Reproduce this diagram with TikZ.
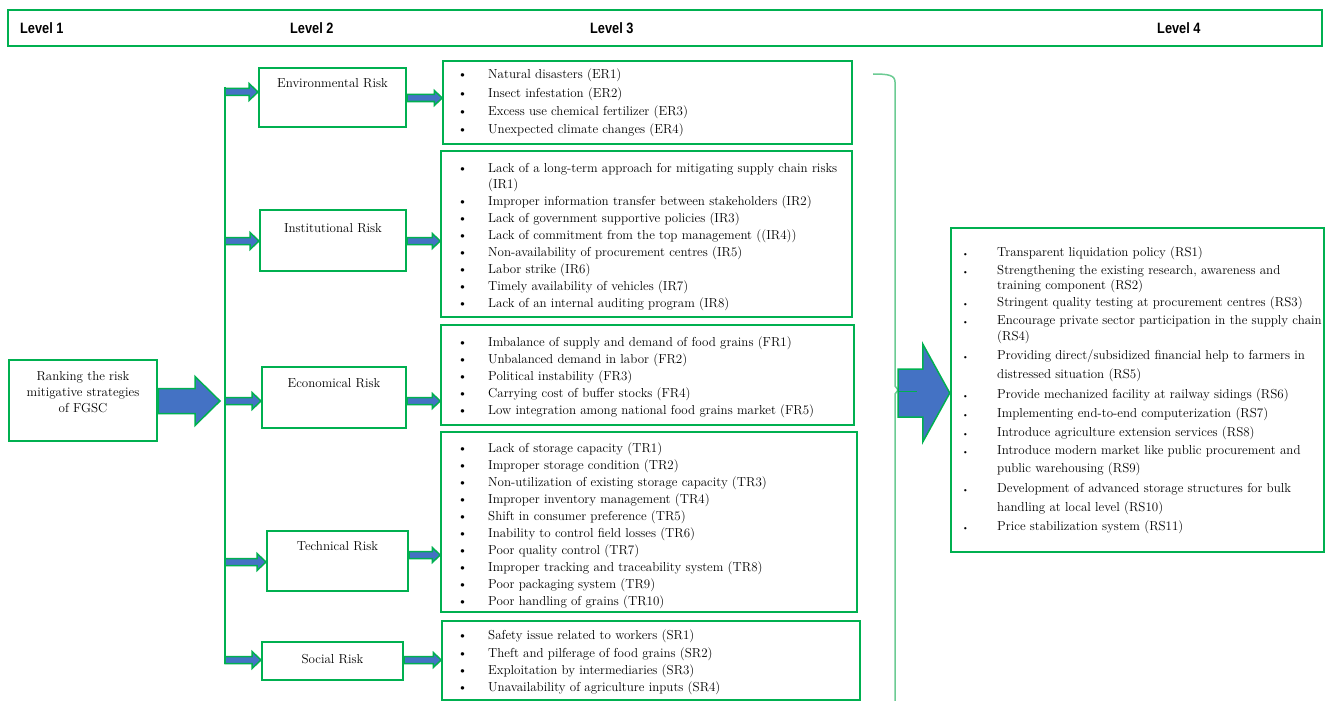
\documentclass[tikz,border=0pt]{standalone}
\usepackage{fontspec}
\newfontfamily\hdr{Liberation Sans}[FakeStretch=0.85]
\usetikzlibrary{calc}
\definecolor{gr}{HTML}{00B050}
\definecolor{bl}{HTML}{4472C4}
\definecolor{lgr}{HTML}{6CCB93}
\newcommand\bu{\makebox[30.5pt][l]{\textbullet}}
\newcommand\nb{\hspace*{30.5pt}}
\newcommand\bv{\makebox[35pt][l]{\footnotesize\textbullet}}
\newcommand\nv{\hspace*{35pt}}
\newcommand\li[4]{\node[txt] (#1) at (#2,#3+4) {#4};}
\newcommand\lr[3]{\node[rtxt] (#1) at (962,#2+4) {#3};}
\newcommand\blockarrow[5]{\path[barrow] let \p1=(#1), \p2=(#2) in
  (\x1,\y1+#3) -- (\x2-#5,\y1+#3) -- (\x2-#5,\y1+#4) -- (\x2,\y1) --
  (\x2-#5,\y1-#4) -- (\x2-#5,\y1-#3) -- (\x1,\y1-#3) -- cycle;}
\begin{document}
\begin{tikzpicture}[x=1pt,y=-1pt,
 lbox/.style={draw=gr, line width=1.5pt, inner sep=0pt},
 hbox/.style={draw=gr, line width=2.5pt, inner sep=0pt},
 txt/.style={font=\fontsize{13}{15}\selectfont, inner sep=0pt, anchor=base west},
 rtxt/.style={font=\fontsize{13}{15}\selectfont, inner sep=0pt, anchor=base west},
 lbl/.style={font=\fontsize{13}{16}\selectfont, inner sep=0pt},
 hd/.style={font=\hdr\bfseries\fontsize{15}{18}\selectfont, inner sep=0pt, anchor=west},
 barrow/.style={fill=bl, draw=gr, line width=1.5pt, line join=miter},
 gline/.style={draw=gr, line width=2.5pt},
 brace/.style={draw=lgr, line width=1.5pt},
]
\useasboundingbox (0,0) rectangle (1326,701);

% header
\node[hbox, minimum width=1314pt, minimum height=36pt] (hdrbox) at (665,28) {};
\node[hd] (lv1) at (20,28) {Level 1};
\node[hd] (lv2) at (290,28) {Level 2};
\node[hd] (lv3) at (590,28) {Level 3};
\node[hd] (lv4) at (1157,28) {Level 4};

% level 1
\node[hbox, minimum width=148pt, minimum height=81pt] (rank) at (83,400.5) {};
\node[lbl, align=center] (rankt) at (83,392.5) {Ranking the risk\\mitigative strategies\\of FGSC};

% level 2 boxes
\node[lbox, line width=2pt, minimum width=147pt, minimum height=59pt] (env) at (332.5,97.5) {};
\node[lbox, line width=2pt, minimum width=146pt, minimum height=61pt] (inst) at (333,240.5) {};
\node[lbox, line width=2pt, minimum width=144pt, minimum height=61pt] (econ) at (334,397.5) {};
\node[lbox, line width=2pt, minimum width=141pt, minimum height=60pt] (tech) at (337.5,561) {};
\node[lbox, line width=2pt, minimum width=141pt, minimum height=38pt] (soc) at (332.5,661) {};
\node[lbl] (envt) at (332.5,83) {Environmental Risk};
\node[lbl] (instt) at (333,228) {Institutional Risk};
\node[lbl] (econt) at (334,383) {Economical Risk};
\node[lbl] (techt) at (337.5,546) {Technical Risk};
\node[lbl] (soct) at (332.5,659) {Social Risk};

% level 3 boxes
\node[lbox, minimum width=409pt, minimum height=83pt] (er) at (647.5,102.5) {};
\node[lbox, minimum width=411pt, minimum height=166pt] (ir) at (646.5,234) {};
\node[lbox, minimum width=413pt, minimum height=100pt] (fr) at (647.5,375) {};
\node[lbox, minimum width=416pt, minimum height=180pt] (tr) at (649,522) {};
\node[lbox, minimum width=418pt, minimum height=79pt] (sr) at (651,660.5) {};

% level 4 box
\node[hbox, minimum width=373pt, minimum height=324pt] (rs) at (1137.5,390) {};

% connectors: trunk
\coordinate (vtop) at (225,87);
\coordinate (vbot) at (225,664);
\draw[gline] (vtop) -- (vbot);
\coordinate (bigS) at (157,401);
\coordinate (bigT) at (220,401);
\blockarrow{rank.east |- bigS}{bigT}{12.5pt}{24.5pt}{25pt}

\coordinate (v1) at (225,92);
\coordinate (v2) at (225,241);
\coordinate (v3) at (225,401);
\coordinate (v4) at (225,562);
\coordinate (v5) at (225,660);
\blockarrow{v1}{env.west |- v1}{3.5pt}{8.5pt}{9pt}
\blockarrow{v2}{inst.west |- v2}{3.5pt}{8.5pt}{9pt}
\blockarrow{v3}{econ.west |- v3}{3.5pt}{8.5pt}{9pt}
\blockarrow{v4}{tech.west |- v4}{3.5pt}{8.5pt}{9pt}
\blockarrow{v5}{soc.west |- v5}{3.5pt}{8.5pt}{9pt}

\coordinate (w1) at (406,98);
\coordinate (w2) at (406,241);
\coordinate (w3) at (406,401);
\coordinate (w4) at (408,555);
\coordinate (w5) at (404,660);
\blockarrow{env.east |- w1}{er.west |- w1}{3.5pt}{7.5pt}{8pt}
\blockarrow{inst.east |- w2}{ir.west |- w2}{3.5pt}{7.5pt}{8pt}
\blockarrow{econ.east |- w3}{fr.west |- w3}{3.5pt}{7.5pt}{8pt}
\blockarrow{tech.east |- w4}{tr.west |- w4}{3.5pt}{7.5pt}{8pt}
\blockarrow{soc.east |- w5}{sr.west |- w5}{3.5pt}{7.5pt}{8pt}

% brace and big arrow to level 4
\draw[brace] (873,74) .. controls (888,74) and (895,75) .. (895,82) -- (895,386) -- (898,390) -- (895,394) -- (895,701);
\coordinate (braceTip) at (898,393);
\blockarrow{braceTip}{rs.west |- braceTip}{24pt}{49pt}{27pt}
\coordinate (tipEnd) at (917,391);
\draw[draw=gr, line width=1pt] (braceTip |- tipEnd) -- (tipEnd);

% level 3 texts
\li{er1}{457.5}{75}{\bu Natural disasters (ER1)}
\li{er2}{457.5}{93}{\bu Insect infestation (ER2)}
\li{er3}{457.5}{111}{\bu Excess use chemical fertilizer (ER3)}
\li{er4}{457.5}{129}{\bu Unexpected climate changes (ER4)}

\li{ir1}{457.5}{168}{\bu Lack of a long-term approach for mitigating supply chain risks}
\li{ir1b}{457.5}{184}{\nb (IR1)}
\li{ir2}{457.5}{201}{\bu Improper information transfer between stakeholders (IR2)}
\li{ir3}{457.5}{218}{\bu Lack of government supportive policies (IR3)}
\li{ir4}{457.5}{235}{\bu Lack of commitment from the top management ((IR4))}
\li{ir5}{457.5}{252}{\bu Non-availability of procurement centres (IR5)}
\li{ir6}{457.5}{269}{\bu Labor strike (IR6)}
\li{ir7}{457.5}{286}{\bu Timely availability of vehicles (IR7)}
\li{ir8}{457.5}{303}{\bu Lack of an internal auditing program (IR8)}

\li{fr1}{457.5}{342}{\bu Imbalance of supply and demand of food grains (FR1)}
\li{fr2}{457.5}{359}{\bu Unbalanced demand in labor (FR2)}
\li{fr3}{457.5}{376}{\bu Political instability (FR3)}
\li{fr4}{457.5}{393}{\bu Carrying cost of buffer stocks (FR4)}
\li{fr5}{457.5}{410}{\bu Low integration among national food grains market (FR5)}

\li{tr1}{457.5}{448}{\bu Lack of storage capacity (TR1)}
\li{tr2}{457.5}{465}{\bu Improper storage condition (TR2)}
\li{tr3}{457.5}{482}{\bu Non-utilization of existing storage capacity (TR3)}
\li{tr4}{457.5}{499}{\bu Improper inventory management (TR4)}
\li{tr5}{457.5}{516}{\bu Shift in consumer preference (TR5)}
\li{tr6}{457.5}{533}{\bu Inability to control field losses (TR6)}
\li{tr7}{457.5}{550}{\bu Poor quality control (TR7)}
\li{tr8}{457.5}{567}{\bu Improper tracking and traceability system (TR8)}
\li{tr9}{457.5}{584}{\bu Poor packaging system (TR9)}
\li{tr10}{457.5}{601}{\bu Poor handling of grains (TR10)}

\li{sr1}{457.5}{635}{\bu Safety issue related to workers (SR1)}
\li{sr2}{457.5}{653}{\bu Theft and pilferage of food grains (SR2)}
\li{sr3}{457.5}{670}{\bu Exploitation by intermediaries (SR3)}
\li{sr4}{457.5}{687}{\bu Unavailability of agriculture inputs (SR4)}

% level 4 texts
\lr{rs1}{252}{\bv Transparent liquidation policy (RS1)}
\lr{rs2}{270}{\bv Strengthening the existing research, awareness and}
\lr{rs2b}{285}{\nv training component (RS2)}
\lr{rs3}{302}{\bv Stringent quality testing at procurement centres (RS3)}
\lr{rs4}{320}{\bv Encourage private sector participation in the supply chain}
\lr{rs4b}{336}{\nv (RS4)}
\lr{rs5}{355}{\bv Providing direct/subsidized financial help to farmers in}
\lr{rs5b}{374}{\nv distressed situation (RS5)}
\lr{rs6}{394}{\bv Provide mechanized facility at railway sidings (RS6)}
\lr{rs7}{413}{\bv Implementing end-to-end computerization (RS7)}
\lr{rs8}{432}{\bv Introduce agriculture extension services (RS8)}
\lr{rs9}{450}{\bv Introduce modern market like public procurement and}
\lr{rs9b}{468}{\nv public warehousing (RS9)}
\lr{rs10}{488}{\bv Development of advanced storage structures for bulk}
\lr{rs10b}{507}{\nv handling at local level (RS10)}
\lr{rs11}{526}{\bv Price stabilization system (RS11)}
\end{tikzpicture}
\end{document}
